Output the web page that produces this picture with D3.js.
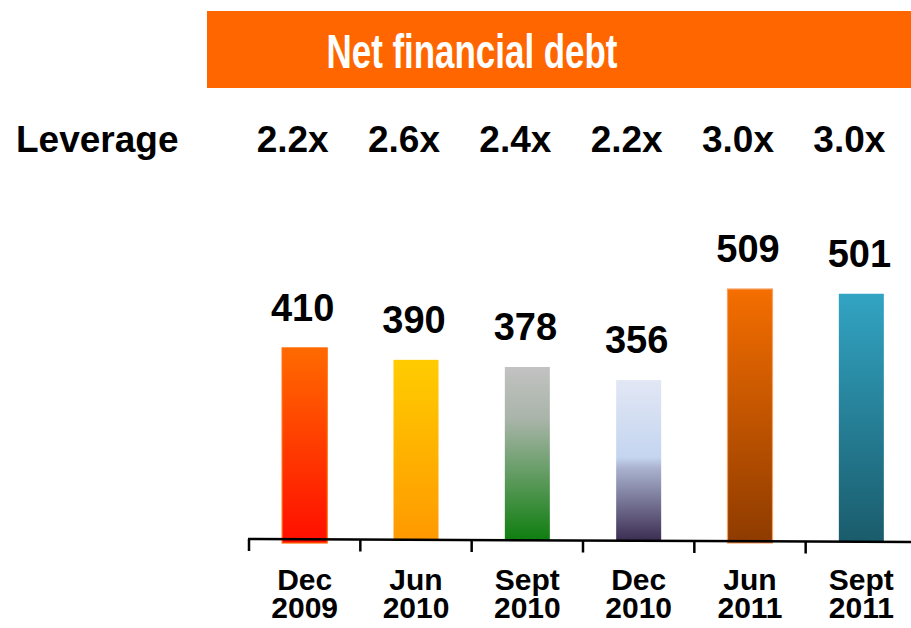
<!DOCTYPE html>
<html><head><meta charset="utf-8">
<script src="https://cdn.jsdelivr.net/npm/d3@7"></script>
<style>body{margin:0;background:#fff}svg{display:block}text{font-family:"Liberation Sans",Arial,sans-serif;font-weight:bold}</style>
</head><body>
<svg id="c" width="911" height="628"></svg>
<script>
const categories = ["Dec 2009","Jun 2010","Sept 2010","Dec 2010","Jun 2011","Sept 2011"];
const debt = [410,390,378,356,509,501];
const leverage = ["2.2x","2.6x","2.4x","2.2x","3.0x","3.0x"];
const title = "Net financial debt";
const rowLabel = "Leverage";
const gradients = [
  [["0%","#FF6A00"],["100%","#FF0E00"]],
  [["0%","#FFCC00"],["100%","#FF9900"]],
  [["0%","#C2C2C2"],["30%","#A9B4A9"],["100%","#0E7E0E"]],
  [["0%","#E2E7F4"],["48%","#C4D5F0"],["55%","#A9B1CF"],["100%","#3B2D52"]],
  [["0%","#F56E00"],["100%","#8E3B00"]],
  [["0%","#32A4C3"],["100%","#1A5C6C"]]
];
const outlines = ["#FF6600",null,null,null,"#F7A060",null];

const svg = d3.select("#c");
const defs = svg.append("defs");
gradients.forEach((g,i)=>{
  const lg = defs.append("linearGradient").attr("id","g"+i).attr("x1",0).attr("y1",0).attr("x2",0).attr("y2",1);
  g.forEach(s=>lg.append("stop").attr("offset",s[0]).attr("stop-color",s[1]));
});

// banner
svg.append("rect").attr("x",207).attr("y",11).attr("width",704).attr("height",77).attr("fill","#FF6600");
svg.append("text").attr("x",472).attr("y",68).attr("text-anchor","middle")
  .attr("fill","#fff").style("font-family","'Liberation Sans Narrow','Liberation Sans',sans-serif")
  .style("font-size","48px").attr("textLength",291).attr("lengthAdjust","spacingAndGlyphs").text(title);

const x = d3.scaleBand().domain(categories).range([249,917]);
const y = d3.scaleLinear().domain([89,509]).range([539,289]);
const bw = 45;

svg.append("text").attr("x",16).attr("y",152).style("font-size","37px").attr("fill","#000").text(rowLabel);
svg.selectAll(".lev").data(leverage).join("text")
  .attr("x",(d,i)=>x(categories[i])+x.bandwidth()/2-12).attr("y",152)
  .attr("text-anchor","middle").style("font-size","37px").attr("fill","#000").text(d=>d);

// bars
svg.selectAll(".bar").data(debt).join("rect")
  .attr("x",(d,i)=>x(categories[i])+x.bandwidth()/2-bw/2)
  .attr("y",d=>y(d)).attr("width",bw).attr("height",(d,i)=>y.range()[0]+(outlines[i]?4:2)-y(d))
  .attr("fill",(d,i)=>"url(#g"+i+")")
  .attr("stroke",(d,i)=>outlines[i]||"none").attr("stroke-width",1.2);

svg.selectAll(".val").data(debt).join("text")
  .attr("x",(d,i)=>x(categories[i])+x.bandwidth()/2-2).attr("y",d=>y(d)-27)
  .attr("text-anchor","middle").style("font-size","38px").attr("fill","#000").text(d=>d);

// axis
svg.append("line").attr("x1",248).attr("y1",539).attr("x2",911).attr("y2",542)
  .attr("stroke","#000").attr("stroke-width",2.5);
const ticks = categories.map(c=>x(c));
svg.selectAll(".tk").data(ticks).join("line")
  .attr("x1",d=>d).attr("x2",d=>d).attr("y1",d=>539+(d-248)*3/663).attr("y2",d=>551+(d-248)*3/663)
  .attr("stroke","#000").attr("stroke-width",2.5);

const lab = svg.selectAll(".cl").data(categories).join("text")
  .attr("text-anchor","middle").style("font-size","30px").attr("fill","#000");
lab.append("tspan").attr("x",d=>x(d)+x.bandwidth()/2).attr("y",590).text(d=>d.split(" ")[0]);
lab.append("tspan").attr("x",d=>x(d)+x.bandwidth()/2).attr("y",618).text(d=>d.split(" ")[1]);
</script>
</body></html>
